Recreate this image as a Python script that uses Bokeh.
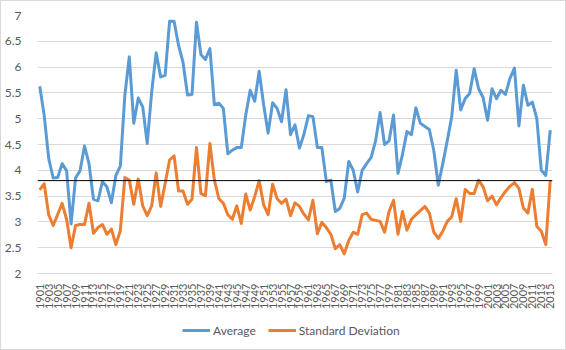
import math
from bokeh.plotting import figure
from bokeh.layouts import column
from bokeh.models import Range1d, FixedTicker, Span, Legend, LegendItem
from bokeh.embed import file_html
from bokeh.resources import INLINE

years = list(range(1901, 2016))

average = [
    5.63, 5.06, 4.23, 3.85, 3.86, 4.13, 3.99, 2.96, 3.85, 3.99,
    4.47, 4.13, 3.44, 3.41, 3.78, 3.68, 3.37, 3.90, 4.08, 5.45,
    6.20, 4.91, 5.40, 5.23, 4.52, 5.52, 6.28, 5.81, 5.84, 6.89,
    6.89, 6.42, 6.09, 5.46, 5.47, 6.87, 6.24, 6.15, 6.36, 5.27,
    5.30, 5.20, 4.32, 4.39, 4.44, 4.44, 5.07, 5.55, 5.34, 5.92,
    5.27, 4.72, 5.31, 5.20, 4.94, 5.56, 4.69, 4.88, 4.43, 4.70,
    5.06, 5.04, 4.44, 4.44, 3.78, 3.81, 3.20, 3.26, 3.46, 4.17,
    4.00, 3.58, 4.00, 4.13, 4.25, 4.57, 5.12, 4.50, 4.57, 5.07,
    3.94, 4.31, 4.75, 4.69, 5.21, 4.91, 4.85, 4.79, 4.38, 3.71,
    4.13, 4.57, 5.04, 5.94, 5.17, 5.39, 5.49, 5.97, 5.58, 5.41,
    4.97, 5.58, 5.39, 5.55, 5.47, 5.78, 5.98, 4.86, 5.65, 5.26,
    5.32, 5.00, 4.00, 3.90, 4.78,
]

std_dev = [
    3.62, 3.74, 3.14, 2.93, 3.14, 3.36, 3.05, 2.50, 2.93, 2.95,
    2.95, 3.36, 2.78, 2.89, 2.95, 2.76, 2.86, 2.56, 2.83, 3.86,
    3.81, 3.34, 3.83, 3.31, 3.12, 3.31, 3.95, 3.30, 3.74, 4.20,
    4.28, 3.60, 3.60, 3.34, 3.44, 4.44, 3.55, 3.51, 4.52, 3.81,
    3.45, 3.36, 3.14, 3.05, 3.31, 2.97, 3.54, 3.23, 3.49, 3.80,
    3.33, 3.14, 3.73, 3.45, 3.36, 3.44, 3.12, 3.37, 3.30, 3.15,
    3.04, 3.42, 2.77, 2.99, 2.89, 2.76, 2.48, 2.56, 2.38, 2.64,
    2.80, 2.76, 3.14, 3.17, 3.05, 3.03, 3.01, 2.80, 3.20, 3.42,
    2.76, 3.20, 2.84, 3.05, 3.14, 3.22, 3.30, 3.17, 2.80, 2.68,
    2.82, 3.01, 3.10, 3.45, 3.01, 3.63, 3.55, 3.55, 3.81, 3.68,
    3.41, 3.50, 3.33, 3.47, 3.59, 3.69, 3.76, 3.65, 3.27, 3.17,
    3.63, 2.91, 2.82, 2.56, 3.81,
]

series_names = ["Average", "Standard Deviation"]
series_colors = ["#5B9BD5", "#ED7D31"]
reference_level = 3.8
tick_years = years[::2]
y_ticks = [2, 2.5, 3, 3.5, 4, 4.5, 5, 5.5, 6, 6.5, 7]

FONT = "Lato"
GRAY = "#595959"
GRID = "#d9d9d9"

p = figure(width=564, height=311, output_backend="svg", toolbar_location=None,
           x_range=Range1d(years[0] - 0.5, years[-1] + 0.5),
           y_range=Range1d(2, 7),
           min_border_left=34, min_border_right=13, min_border_top=14, min_border_bottom=34)
p.outline_line_color = None
p.background_fill_color = "white"
p.border_fill_color = "white"

p.xgrid.visible = False
p.ygrid.ticker = FixedTicker(ticks=y_ticks)
p.ygrid.grid_line_color = GRID
p.ygrid.grid_line_width = 1

p.yaxis.ticker = FixedTicker(ticks=y_ticks)
p.yaxis.major_label_overrides = {t: ("%g" % t) for t in y_ticks}
p.yaxis.axis_line_color = None
p.yaxis.major_tick_line_color = None
p.yaxis.minor_tick_line_color = None
p.yaxis.major_label_standoff = 10
p.yaxis.major_label_text_font = FONT
p.yaxis.major_label_text_font_size = "12px"
p.yaxis.major_label_text_color = GRAY

p.xaxis.ticker = FixedTicker(ticks=tick_years)
p.xaxis.major_label_overrides = {t: str(t) for t in tick_years}
p.xaxis.major_label_orientation = math.pi / 2
p.xaxis.axis_line_color = GRID
p.xaxis.major_tick_line_color = None
p.xaxis.minor_tick_line_color = None
p.xaxis.major_label_standoff = 4
p.xaxis.major_label_text_font = FONT
p.xaxis.major_label_text_font_size = "11px"
p.xaxis.major_label_text_color = GRAY

p.line(years, average, line_color=series_colors[0], line_width=3, line_join="round")
p.line(years, std_dev, line_color=series_colors[1], line_width=3, line_join="round")
p.add_layout(Span(location=reference_level, dimension="width", line_color="black", line_width=1))

# legend strip below the chart
lg = figure(width=564, height=37, output_backend="svg", toolbar_location=None,
            x_range=Range1d(0, 1), y_range=Range1d(0, 1),
            min_border_left=0, min_border_right=0, min_border_top=0, min_border_bottom=0)
lg.axis.visible = False
lg.grid.visible = False
lg.outline_line_color = None
lg.background_fill_color = "white"
lg.border_fill_color = "white"
items = []
for name, color in zip(series_names, series_colors):
    # swatch renderer kept outside the visible range; only its legend glyph shows
    r = lg.line([-10, -9], [-10, -9], line_color=color, line_width=3)
    items.append(LegendItem(label=name, renderers=[r]))
legend = Legend(items=items, location=(145, 10), orientation="horizontal")
legend.border_line_color = None
legend.background_fill_alpha = 0
legend.padding = 0
legend.margin = 0
legend.spacing = 12
legend.glyph_width = 28
legend.glyph_height = 18
legend.label_standoff = 3
legend.label_text_font = FONT
legend.label_text_font_size = "12px"
legend.label_text_color = GRAY
lg.add_layout(legend, "center")

layout = column(p, lg, spacing=0)
layout.styles = {"border": "1px solid #d9d9d9"}
open("out.html", "w").write(file_html(layout, INLINE))
